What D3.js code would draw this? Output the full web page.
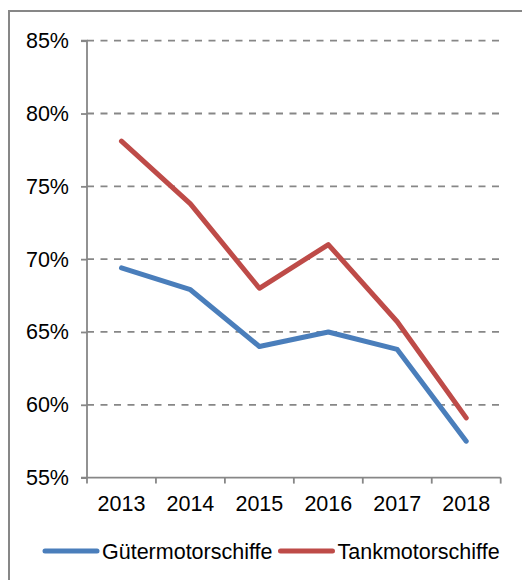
<!DOCTYPE html>
<html>
<head>
<meta charset="utf-8">
<script src="https://cdn.jsdelivr.net/npm/d3@7"></script>
<style>
  body { margin: 0; background: #fff; }
  svg { display: block; font-family: "Liberation Sans", Arial, sans-serif; }
</style>
</head>
<body>
<div class="chart"></div>
<script>
// data
const years = ["2013", "2014", "2015", "2016", "2017", "2018"];
const gueter = [0.694, 0.679, 0.640, 0.650, 0.638, 0.575];
const tank = [0.781, 0.738, 0.680, 0.710, 0.657, 0.591];
const yTicks = [0.55, 0.60, 0.65, 0.70, 0.75, 0.80, 0.85];
const seriesNames = ["Gütermotorschiffe", "Tankmotorschiffe"];
const seriesColors = ["#4a7ebb", "#be4b48"];

const width = 522, height = 580;
const fontSize = '21.5px';
const svg = d3.select('.chart').append('svg')
    .attr('width', width)
    .attr('height', height);

// outer frame (right and bottom edges fall outside the picture)
svg.append('rect')
    .attr('x', 9).attr('y', 11)
    .attr('width', 600).attr('height', 600)
    .attr('fill', 'none')
    .attr('stroke', '#878787')
    .attr('stroke-width', 2);

const x = d3.scaleBand().domain(years).range([87, 500.7]).padding(0);
const y = d3.scaleLinear().domain([0.55, 0.85]).range([477.6, 40.7]);

// dashed grid
svg.append('g')
    .selectAll('line')
    .data(yTicks.filter(d => d > 0.55))
    .enter()
    .append('line')
    .attr('x1', 87).attr('x2', 499)
    .attr('y1', d => y(d)).attr('y2', d => y(d))
    .attr('stroke', '#878787')
    .attr('stroke-width', 1.8)
    .attr('stroke-dasharray', '7,6.5');

// y axis
const yAxis = svg.append('g')
    .attr('transform', 'translate(87,0)')
    .call(d3.axisLeft(y).tickValues(yTicks).tickFormat(d3.format('.0%')).tickSize(6).tickPadding(12));

// x axis
const xAxis = svg.append('g')
    .attr('transform', `translate(0,${y(0.55)})`)
    .call(d3.axisBottom(x).tickSize(0).tickPadding(18));

// category boundary ticks
xAxis.selectAll('.bound')
    .data(d3.range(years.length + 1))
    .enter()
    .append('line')
    .attr('class', 'bound')
    .attr('x1', i => x.range()[0] + i * x.bandwidth())
    .attr('x2', i => x.range()[0] + i * x.bandwidth())
    .attr('y1', 0).attr('y2', 6)
    .attr('stroke', '#878787')
    .attr('stroke-width', 1.8);

[yAxis, xAxis].forEach(ax => {
    ax.select('.domain').attr('stroke', '#878787').attr('stroke-width', 1.8);
    ax.selectAll('.tick line').attr('stroke', '#878787').attr('stroke-width', 1.8);
    ax.selectAll('text').attr('fill', '#000').style('font-size', fontSize).style('font-family', '"Liberation Sans", Arial, sans-serif');
});
yAxis.select('.domain').attr('d', `M-6,${y(0.85)}H0V${y(0.55)}H-6`);
xAxis.select('.domain').attr('d', `M${x.range()[0]},0H${x.range()[1]}`);

// series lines
const line = d3.line()
    .x((d, i) => x(years[i]) + x.bandwidth() / 2)
    .y(d => y(d));

[gueter, tank].forEach((values, k) => {
    svg.append('path')
        .datum(values)
        .attr('d', line)
        .attr('fill', 'none')
        .attr('stroke', seriesColors[k])
        .attr('stroke-width', 5)
        .attr('stroke-linejoin', 'round')
        .attr('stroke-linecap', 'round');
});

// legend
const legend = svg.append('g').attr('transform', 'translate(0,551)');
let lx = 45;
seriesNames.forEach((name, k) => {
    legend.append('line')
        .attr('x1', lx).attr('x2', lx + 52)
        .attr('y1', 0).attr('y2', 0)
        .attr('stroke', seriesColors[k])
        .attr('stroke-width', 5)
        .attr('stroke-linecap', 'round');
    const t = legend.append('text')
        .attr('x', lx + 57)
        .attr('y', 0)
        .attr('dy', '0.35em')
        .style('font-size', fontSize)
        .text(name);
    lx += 57 + t.node().getComputedTextLength() + 8;
});
</script>
</body>
</html>
